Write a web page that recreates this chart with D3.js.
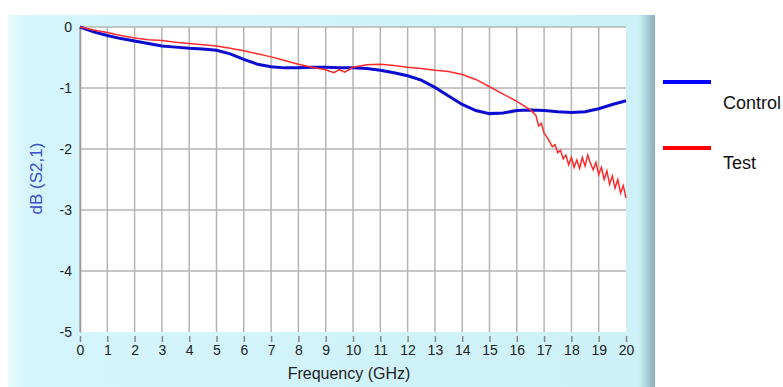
<!DOCTYPE html>
<html>
<head>
<meta charset="utf-8">
<script src="https://cdn.jsdelivr.net/npm/d3@7"></script>
<style>
  body { margin: 0; background: #ffffff; }
  svg { display: block; font-family: "Liberation Sans", Arial, sans-serif; }
</style>
</head>
<body>
<div id="my_dataviz"></div>
<script>
/** Data */
var controlFreq = [0, 0.5, 1, 1.5, 2, 2.5, 3, 3.5, 4, 4.5, 5, 5.5, 6, 6.5, 7, 7.5, 8, 8.5, 9, 9.5, 10,
  10.5, 11, 11.5, 12, 12.5, 13, 13.5, 14, 14.5, 15, 15.5, 16, 16.5, 17, 17.5, 18, 18.5, 19, 19.5, 20];
var controlDb = [0, -0.08, -0.14, -0.19, -0.23, -0.27, -0.31, -0.33, -0.35, -0.36, -0.38, -0.44, -0.53, -0.61, -0.65, -0.67, -0.67, -0.66, -0.66, -0.67, -0.67,
  -0.68, -0.71, -0.75, -0.80, -0.87, -0.99, -1.13, -1.27, -1.37, -1.42, -1.41, -1.37, -1.36, -1.37, -1.39, -1.40, -1.39, -1.34, -1.27, -1.21];

var testFreq = [0, 0.5, 1, 1.5, 2, 2.5, 3, 3.5, 4, 4.5, 5, 5.5, 6, 6.5, 7, 7.5, 8, 8.5, 9, 9.3, 9.5, 9.7, 10,
  10.5, 11, 11.5, 12, 12.5, 13, 13.5, 14, 14.5, 15, 15.5, 16, 16.5,
  16.7, 16.8, 16.9, 17, 17.1, 17.2, 17.3, 17.4, 17.5, 17.6, 17.7, 17.8, 17.9, 18, 18.1, 18.2, 18.3, 18.4, 18.5,
  18.6, 18.7, 18.8, 18.9, 19, 19.1, 19.2, 19.3, 19.4, 19.5, 19.6, 19.7, 19.8, 19.9, 20];
var testDb = [0, -0.05, -0.09, -0.14, -0.18, -0.21, -0.22, -0.25, -0.27, -0.29, -0.31, -0.35, -0.39, -0.44, -0.49, -0.55, -0.61, -0.66, -0.70, -0.75, -0.70, -0.74, -0.66,
  -0.62, -0.61, -0.63, -0.66, -0.68, -0.71, -0.73, -0.78, -0.86, -0.98, -1.10, -1.22, -1.36,
  -1.45, -1.62, -1.58, -1.74, -1.80, -1.88, -1.96, -1.93, -2.06, -2.02, -2.16, -2.10, -2.26, -2.14, -2.30, -2.18, -2.32, -2.14, -2.28,
  -2.10, -2.24, -2.34, -2.22, -2.42, -2.30, -2.50, -2.36, -2.58, -2.44, -2.64, -2.50, -2.72, -2.60, -2.80];

var xTicks = d3.range(0, 21);
var yTicks = [0, -1, -2, -3, -4, -5];
var seriesNames = ["Control", "Test"];

/** Colours: lines in the plot, and the brighter legend swatches */
var lineColors = ["#0c0cd0", "#ff2a2a"];
var legendColors = ["#0000ff", "#ff0000"];

/** Sizes of the picture */
var width = 783, height = 387;
var plot = {left: 80, right: 626, top: 27, bottom: 332};

var svg = d3.select("#my_dataviz")
  .append("svg")
    .attr("width", width)
    .attr("height", height);

/** Light blue panel with darker right edge */
var defs = svg.append("defs");
var grad = defs.append("linearGradient").attr("id", "panelGrad");
grad.append("stop").attr("offset", 0).attr("stop-color", "#e8fbfe");
grad.append("stop").attr("offset", 0.03).attr("stop-color", "#d4f5fb");
grad.append("stop").attr("offset", 0.975).attr("stop-color", "#cdf1f7");
grad.append("stop").attr("offset", 1).attr("stop-color", "#8aaebb");

svg.append("rect")
  .attr("x", 8).attr("y", 15)
  .attr("width", 647).attr("height", height - 15)
  .attr("fill", "url(#panelGrad)");

svg.append("rect")
  .attr("x", plot.left).attr("y", plot.top)
  .attr("width", plot.right - plot.left).attr("height", plot.bottom - plot.top)
  .attr("fill", "#ffffff");

/** Scales */
var x = d3.scaleLinear().domain([0, 20]).range([plot.left, plot.right]);
var y = d3.scaleLinear().domain([-5, 0]).range([plot.bottom, plot.top]);

/** Grid lines */
svg.append("g")
  .selectAll("line")
  .data(xTicks.filter(function(d){ return d < 20 }))
  .enter().append("line")
    .attr("x1", function(d){ return x(d) }).attr("x2", function(d){ return x(d) })
    .attr("y1", plot.top).attr("y2", plot.bottom)
    .attr("stroke", "#b4b4b4")
    .attr("stroke-width", 1.5);

svg.append("g")
  .selectAll("line")
  .data(yTicks.filter(function(d){ return d > -5 }))
  .enter().append("line")
    .attr("x1", plot.left).attr("x2", plot.right)
    .attr("y1", function(d){ return y(d) }).attr("y2", function(d){ return y(d) })
    .attr("stroke", "#b4b4b4")
    .attr("stroke-width", 1.5);

/** x axis */
var xAxis = svg.append("g")
  .attr("transform", "translate(0," + (plot.bottom + 4) + ")")
  .call(d3.axisBottom(x).tickValues(xTicks).tickSize(6).tickPadding(3).tickFormat(function(d){ return String(d) }));
xAxis.select(".domain").remove();
xAxis.selectAll(".tick line").attr("stroke", "#888").attr("stroke-width", 1.5);
xAxis.selectAll(".tick text")
  .attr("fill", "#222")
  .style("font-size", "14px")
  .style("font-family", "'Liberation Sans Narrow', 'Liberation Sans', Arial, sans-serif");

/** y axis (hyphen minus, as in the original) */
var yAxis = svg.append("g")
  .attr("transform", "translate(" + plot.left + ",0)")
  .call(d3.axisLeft(y).tickValues(yTicks).tickSize(0).tickPadding(8).tickFormat(function(d){ return String(d) }));
yAxis.select(".domain").attr("stroke", "#999").attr("stroke-width", 1.5);
yAxis.selectAll(".tick text")
  .attr("fill", "#222")
  .style("font-size", "14px");

/** Axis titles */
svg.append("text")
  .attr("x", x(10) - 4).attr("y", 379)
  .attr("text-anchor", "middle")
  .style("font-size", "16px")
  .style("font-family", "'Liberation Sans Narrow', 'Liberation Sans', Arial, sans-serif")
  .attr("fill", "#222")
  .text("Frequency (GHz)");

svg.append("text")
  .attr("transform", "translate(42," + (y(-2.5) - 1) + ") rotate(-90)")
  .attr("text-anchor", "middle")
  .style("font-size", "17px")
  .attr("fill", "#3c50c8")
  .text("dB (S2,1)");

/** Lines */
var line = d3.line()
  .x(function(d){ return x(d[0]) })
  .y(function(d){ return y(d[1]) });

svg.append("path")
  .datum(controlFreq.map(function(f, i){ return [f, controlDb[i]] }))
  .attr("d", line)
  .attr("fill", "none")
  .attr("stroke", lineColors[0])
  .attr("stroke-width", 3);

svg.append("path")
  .datum(testFreq.map(function(f, i){ return [f, testDb[i]] }))
  .attr("d", line)
  .attr("fill", "none")
  .attr("stroke", lineColors[1])
  .attr("stroke-width", 1.5);

/** Legend */
var legendLineY = [82, 148];
var legendTextY = [109, 169];
var legend = svg.selectAll("myLegend")
  .data(seriesNames)
  .enter().append("g");
legend.append("line")
  .attr("x1", 663).attr("x2", 711)
  .attr("y1", function(d, i){ return legendLineY[i] })
  .attr("y2", function(d, i){ return legendLineY[i] })
  .attr("stroke", function(d, i){ return legendColors[i] })
  .attr("stroke-width", 4);
legend.append("text")
  .attr("x", 723)
  .attr("y", function(d, i){ return legendTextY[i] })
  .style("font-size", "18px")
  .attr("fill", "#111")
  .text(function(d){ return d });
</script>
</body>
</html>
